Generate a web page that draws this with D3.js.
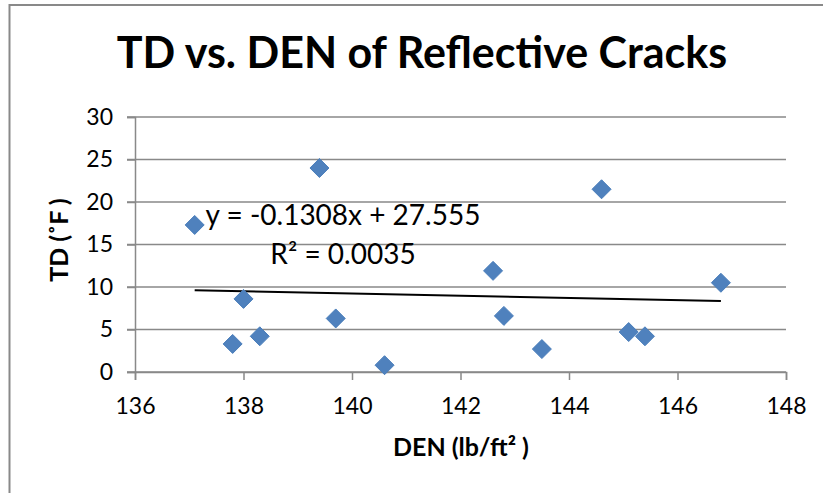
<!DOCTYPE html>
<html>
<head>
<meta charset="utf-8">
<script src="https://cdn.jsdelivr.net/npm/d3@7"></script>
<style>
  body { margin: 0; background: #fff; }
  text { font-family: Lato, "Open Sans", sans-serif; }
</style>
</head>
<body>
<div id="chart"></div>
<script>
// data
const den = [137.1, 139.4, 137.8, 138.0, 138.3, 139.7, 140.6, 142.6, 142.8, 143.5, 144.6, 145.1, 145.4, 146.8];
const td  = [17.3, 24.0, 3.3, 8.6, 4.2, 6.3, 0.8, 11.9, 6.6, 2.7, 21.5, 4.7, 4.2, 10.5];
const xTicks = [136, 138, 140, 142, 144, 146, 148];
const yTicks = [0, 5, 10, 15, 20, 25, 30];
// linear trendline shown on the chart
const slope = -0.1308, intercept = 27.555, rSquared = 0.0035;

const width = 823, height = 493;
const margin = {left: 135, right: 37, top: 117, bottom: 121};

const svg = d3.select("#chart").append("svg")
    .attr("width", width)
    .attr("height", height);

// chart frame (runs off the right and bottom edges)
svg.append("rect")
    .attr("x", 9.5).attr("y", 5)
    .attr("width", 840).attr("height", 520)
    .attr("fill", "white")
    .attr("stroke", "#898989")
    .attr("stroke-width", 2);

let x = d3.scaleLinear().domain([136, 148]).range([margin.left, width - margin.right]);
let y = d3.scaleLinear().domain([0, 30]).range([height - margin.bottom, margin.top]);

// horizontal gridlines
svg.append("g")
    .selectAll("line")
    .data(yTicks)
    .enter().append("line")
    .attr("x1", margin.left - 8)
    .attr("x2", width - margin.right)
    .attr("y1", d => y(d))
    .attr("y2", d => y(d))
    .attr("stroke", "#898989")
    .attr("stroke-width", 1.5);

let yAxis = svg.append("g")
    .attr("transform", "translate(" + margin.left + ",0)")
    .call(d3.axisLeft(y).tickValues(yTicks).tickSize(8).tickPadding(14));

let xAxis = svg.append("g")
    .attr("transform", "translate(0," + y(0) + ")")
    .call(d3.axisBottom(x).tickValues(xTicks).tickSize(8).tickPadding(18));

[xAxis, yAxis].forEach(function (g) {
    g.select(".domain").attr("stroke", "#898989").attr("stroke-width", 1.5);
    g.selectAll(".tick line").attr("stroke", "#898989").attr("stroke-width", 1.5);
    g.selectAll(".tick text")
        .attr("fill", "#000")
        .style("font-family", "Lato, sans-serif")
        .style("font-size", "23px");
});

// trendline across the data range
let xs = d3.extent(den);
svg.append("line")
    .attr("x1", x(xs[0])).attr("y1", y(slope * xs[0] + intercept))
    .attr("x2", x(xs[1])).attr("y2", y(slope * xs[1] + intercept))
    .attr("stroke", "#000")
    .attr("stroke-width", 2);

// diamond markers
const r = 9.5;
svg.append("g")
    .selectAll("path")
    .data(den.map((d, i) => [d, td[i]]))
    .enter().append("path")
    .attr("d", "M0," + (-r) + "L" + r + ",0L0," + r + "L" + (-r) + ",0Z")
    .attr("transform", d => "translate(" + x(d[0]) + "," + y(d[1]) + ")")
    .attr("fill", "#4F81BD")
    .attr("stroke", "#4A7EBB")
    .attr("stroke-width", 1);

// trendline label
svg.append("text")
    .attr("x", 343).attr("y", 225)
    .attr("text-anchor", "middle")
    .style("font-size", "28px")
    .text("y = " + slope + "x + " + intercept);
svg.append("text")
    .attr("x", 343).attr("y", 264)
    .attr("text-anchor", "middle")
    .style("font-size", "28px")
    .text("R² = " + rSquared.toFixed(4));

// titles
svg.append("text")
    .attr("x", 422).attr("y", 68)
    .attr("text-anchor", "middle")
    .style("font-size", "43px")
    .style("font-weight", "bold")
    .text("TD vs. DEN of Reflective Cracks");

svg.append("text")
    .attr("x", 461).attr("y", 456)
    .attr("text-anchor", "middle")
    .style("font-size", "25px")
    .style("font-weight", "bold")
    .text("DEN (lb/ft² )");

svg.append("text")
    .attr("transform", "translate(68,240) rotate(-90)")
    .attr("text-anchor", "middle")
    .style("font-size", "25px")
    .style("font-weight", "bold")
    .text("TD (˚F )");
</script>
</body>
</html>
